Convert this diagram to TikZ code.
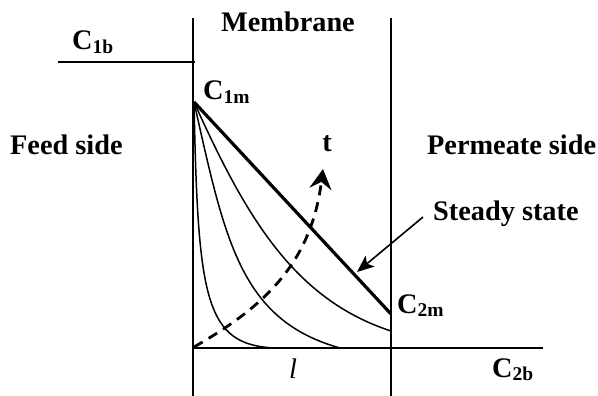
\documentclass[tikz,border=0pt]{standalone}
\usepackage{fontspec}
\setmainfont{Liberation Serif}
\usetikzlibrary{arrows.meta}
\newcommand{\Csub}[1]{C\raisebox{-3.5pt}{\fontsize{19.5}{19.5}\selectfont #1}}
\tikzset{
  lbl/.style={inner sep=0pt, font=\fontsize{28.3}{30}\selectfont\bfseries},
  wall/.style={line width=1.6pt},
  prof/.style={line width=1.5pt},
  steady/.style={line width=3.2pt},
  tarrow/.style={line width=2.8pt, dash pattern=on 10pt off 7pt, -{Stealth[length=20pt,width=22pt,inset=7pt]}},
  sarrow/.style={line width=1.6pt, -{Stealth[length=17pt,width=14pt,inset=4pt]}}
}
\begin{document}
\begin{tikzpicture}[x=1pt,y=-1pt]
\useasboundingbox (0,0) rectangle (598,396);
% walls and axes
\coordinate (LT) at (193,18);
\coordinate (LB) at (193,396);
\coordinate (RT) at (391,18);
\coordinate (RB) at (391,396);
\coordinate (O) at (193,348);
\coordinate (X) at (543,348);
\coordinate (B1) at (58,62);
\coordinate (B2) at (195,62);
\coordinate (C1) at (194,102);
\coordinate (C2) at (391,314);
\draw[wall] (LT) -- (LB);
\draw[wall] (RT) -- (RB);
\draw[wall] (O) -- (X);
\draw[wall] (B1) -- (B2);
% profiles
\coordinate (E1) at (275,348);
\coordinate (E2) at (340,348);
\coordinate (E3) at (391,331);
\draw[prof] (C1) .. controls (198,300) and (205,345) .. (E1);
\draw[prof] (C1) .. controls (225,240) and (240,320) .. (E2);
\draw[prof] (C1) .. controls (245,215) and (293,299) .. (E3);
\draw[steady] (C1) -- (C2);
% time arrow
\coordinate (T0) at (194,347);
\coordinate (T1) at (323,169);
\draw[tarrow] (T0) .. controls (262,308) and (311,265) .. (T1);
% steady state arrow
\coordinate (S0) at (423,217);
\coordinate (S1) at (357,272);
\draw[sarrow] (S0) -- (S1);
% labels
\node[lbl, anchor=base] (mem) at (288,32) {Membrane};
\node[lbl, anchor=base west] (c1b) at (72,50) {\Csub{1b}};
\node[lbl, anchor=base west] (c1m) at (203,100) {\Csub{1m}};
\node[lbl, anchor=base west] (feed) at (10,154) {Feed side};
\node[lbl, anchor=base west] (perm) at (427,154) {Permeate side};
\node[lbl, anchor=base] (t) at (327,152) {t};
\node[lbl, anchor=base west] (ss) at (433,220) {Steady state};
\node[lbl, anchor=base west] (c2m) at (397,313) {\Csub{2m}};
\node[lbl, anchor=base west] (c2b) at (492,377) {\Csub{2b}};
\node[inner sep=0pt, anchor=base, font=\fontsize{28.3}{30}\selectfont\itshape] (l) at (293,378) {l};
\end{tikzpicture}
\end{document}
